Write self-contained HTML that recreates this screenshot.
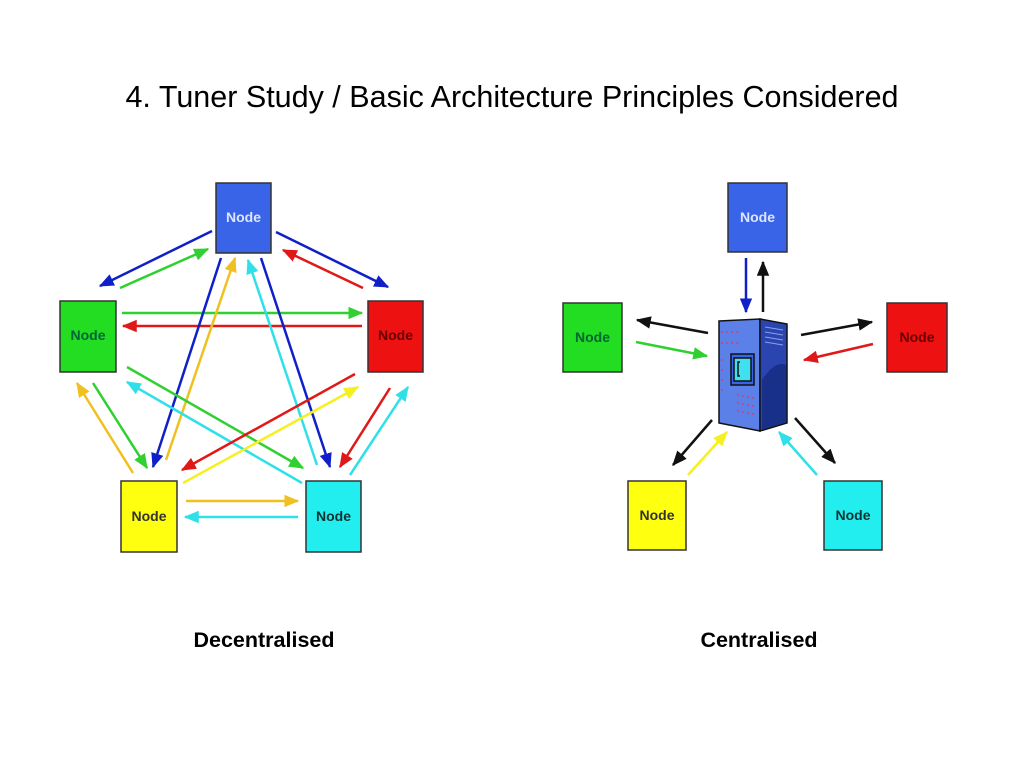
<!DOCTYPE html>
<html><head><meta charset="utf-8"><style>
body{margin:0;background:#fff;}
svg{display:block}
</style></head><body>
<svg width="1024" height="768" viewBox="0 0 1024 768" xmlns="http://www.w3.org/2000/svg" font-family="Liberation Sans, sans-serif">
<defs>
<marker id="mb" markerWidth="6" markerHeight="5" refX="5.5" refY="2.5" orient="auto" markerUnits="strokeWidth"><path d="M0,0L6,2.5L0,5z" fill="#1020c8"/></marker>
<marker id="mg" markerWidth="6" markerHeight="5" refX="5.5" refY="2.5" orient="auto" markerUnits="strokeWidth"><path d="M0,0L6,2.5L0,5z" fill="#30d030"/></marker>
<marker id="mr" markerWidth="6" markerHeight="5" refX="5.5" refY="2.5" orient="auto" markerUnits="strokeWidth"><path d="M0,0L6,2.5L0,5z" fill="#e01818"/></marker>
<marker id="my" markerWidth="6" markerHeight="5" refX="5.5" refY="2.5" orient="auto" markerUnits="strokeWidth"><path d="M0,0L6,2.5L0,5z" fill="#f0c020"/></marker>
<marker id="myy" markerWidth="6" markerHeight="5" refX="5.5" refY="2.5" orient="auto" markerUnits="strokeWidth"><path d="M0,0L6,2.5L0,5z" fill="#f5f020"/></marker>
<marker id="mc" markerWidth="6" markerHeight="5" refX="5.5" refY="2.5" orient="auto" markerUnits="strokeWidth"><path d="M0,0L6,2.5L0,5z" fill="#30e0e8"/></marker>
<marker id="mk" markerWidth="6" markerHeight="5" refX="5.5" refY="2.5" orient="auto" markerUnits="strokeWidth"><path d="M0,0L6,2.5L0,5z" fill="#111"/></marker>
</defs>
<text x="512" y="107" text-anchor="middle" font-size="30.5" fill="#000">4. Tuner Study / Basic Architecture Principles Considered</text>

<g stroke-width="2.5" fill="none">
<line x1="212" y1="231" x2="100" y2="286" stroke="#1020c8" marker-end="url(#mb)"/>
<line x1="120" y1="288" x2="208" y2="249" stroke="#30d030" marker-end="url(#mg)"/>
<line x1="276" y1="232" x2="388" y2="287" stroke="#1020c8" marker-end="url(#mb)"/>
<line x1="363" y1="288" x2="283" y2="250" stroke="#e01818" marker-end="url(#mr)"/>
<line x1="122" y1="313" x2="362" y2="313" stroke="#30d030" marker-end="url(#mg)"/>
<line x1="362" y1="326" x2="123" y2="326" stroke="#e01818" marker-end="url(#mr)"/>
<line x1="221" y1="258" x2="153" y2="467" stroke="#1020c8" marker-end="url(#mb)"/>
<line x1="166" y1="460" x2="235" y2="258" stroke="#f0c020" marker-end="url(#my)"/>
<line x1="317" y1="465" x2="248" y2="260" stroke="#30e0e8" marker-end="url(#mc)"/>
<line x1="261" y1="258" x2="330" y2="467" stroke="#1020c8" marker-end="url(#mb)"/>
<line x1="127" y1="367" x2="303" y2="468" stroke="#30d030" marker-end="url(#mg)"/>
<line x1="302" y1="483" x2="127" y2="382" stroke="#30e0e8" marker-end="url(#mc)"/>
<line x1="355" y1="374" x2="182" y2="470" stroke="#e01818" marker-end="url(#mr)"/>
<line x1="183" y1="483" x2="358" y2="387" stroke="#f5f020" marker-end="url(#myy)"/>
<line x1="390" y1="388" x2="340" y2="467" stroke="#e01818" marker-end="url(#mr)"/>
<line x1="350" y1="475" x2="408" y2="387" stroke="#30e0e8" marker-end="url(#mc)"/>
<line x1="133" y1="473" x2="77" y2="383" stroke="#f0c020" marker-end="url(#my)"/>
<line x1="93" y1="383" x2="147" y2="468" stroke="#30d030" marker-end="url(#mg)"/>
<line x1="186" y1="501" x2="298" y2="501" stroke="#f0c020" marker-end="url(#my)"/>
<line x1="298" y1="517" x2="185" y2="517" stroke="#30e0e8" marker-end="url(#mc)"/>
</g>

<g stroke="#333" stroke-width="1.5" font-size="14" font-weight="bold" text-anchor="middle">
<rect x="216" y="183" width="55" height="70" fill="#3a64e8"/>
<text x="243.5" y="222" fill="#dde6ff" stroke="none">Node</text>
<rect x="60" y="301" width="56" height="71" fill="#22dd22"/>
<text x="88" y="340" fill="#063" stroke="none">Node</text>
<rect x="368" y="301" width="55" height="71" fill="#ee1111"/>
<text x="395.5" y="340" fill="#600" stroke="none">Node</text>
<rect x="121" y="481" width="56" height="71" fill="#ffff10"/>
<text x="149" y="521" fill="#333" stroke="none">Node</text>
<rect x="306" y="481" width="55" height="71" fill="#22eef0"/>
<text x="333.5" y="521" fill="#133" stroke="none">Node</text>

<rect x="728" y="183" width="59" height="69" fill="#3a64e8"/>
<text x="757.5" y="222" fill="#dde6ff" stroke="none">Node</text>
<rect x="563" y="303" width="59" height="69" fill="#22dd22"/>
<text x="592.5" y="342" fill="#063" stroke="none">Node</text>
<rect x="887" y="303" width="60" height="69" fill="#ee1111"/>
<text x="917" y="342" fill="#600" stroke="none">Node</text>
<rect x="628" y="481" width="58" height="69" fill="#ffff10"/>
<text x="657" y="520" fill="#333" stroke="none">Node</text>
<rect x="824" y="481" width="58" height="69" fill="#22eef0"/>
<text x="853" y="520" fill="#133" stroke="none">Node</text>
</g>

<g stroke-width="2.5" fill="none">
<line x1="746" y1="258" x2="746" y2="312" stroke="#1020c8" marker-end="url(#mb)"/>
<line x1="763" y1="312" x2="763" y2="262" stroke="#111" marker-end="url(#mk)"/>
<line x1="708" y1="333" x2="637" y2="320" stroke="#111" marker-end="url(#mk)"/>
<line x1="636" y1="342" x2="707" y2="356" stroke="#30d030" marker-end="url(#mg)"/>
<line x1="801" y1="335" x2="872" y2="322" stroke="#111" marker-end="url(#mk)"/>
<line x1="873" y1="344" x2="804" y2="360" stroke="#e01818" marker-end="url(#mr)"/>
<line x1="712" y1="420" x2="673" y2="465" stroke="#111" marker-end="url(#mk)"/>
<line x1="688" y1="475" x2="727" y2="432" stroke="#f5f020" marker-end="url(#myy)"/>
<line x1="795" y1="418" x2="835" y2="463" stroke="#111" marker-end="url(#mk)"/>
<line x1="817" y1="475" x2="779" y2="432" stroke="#30e0e8" marker-end="url(#mc)"/>
</g>

<g stroke="#111" stroke-width="1.5">
<polygon points="719,321 760,319 760,431 719,423" fill="#5b80e8"/>
<polygon points="760,319 787,324 787,423 760,431" fill="#2a44b0"/>
<path d="M762,380 Q775,360 786,365 L786,422 L762,430z" fill="#18308a" stroke="none"/>
<rect x="731" y="354" width="23" height="31" fill="#3a64e8"/>
<rect x="734" y="358" width="17" height="23" fill="#40e0f0"/>
<path d="M740,362 L738,362 L738,376 L740,376" fill="none"/>
</g>
<g fill="#d04070">
<circle cx="722" cy="332" r="1"/><circle cx="727" cy="332" r="1"/><circle cx="732" cy="332" r="1"/><circle cx="737" cy="332" r="1"/>
<circle cx="722" cy="343" r="1"/><circle cx="727" cy="343" r="1"/><circle cx="732" cy="343" r="1"/><circle cx="737" cy="343" r="1"/>
<circle cx="722" cy="360" r="1"/><circle cx="722" cy="370" r="1"/><circle cx="722" cy="380" r="1"/><circle cx="722" cy="390" r="1"/>
<circle cx="738" cy="395" r="1"/><circle cx="743" cy="396" r="1"/><circle cx="748" cy="397" r="1"/><circle cx="753" cy="398" r="1"/>
<circle cx="738" cy="403" r="1"/><circle cx="743" cy="404" r="1"/><circle cx="748" cy="405" r="1"/><circle cx="753" cy="406" r="1"/>
<circle cx="738" cy="411" r="1"/><circle cx="743" cy="412" r="1"/><circle cx="748" cy="413" r="1"/><circle cx="753" cy="414" r="1"/>
</g>
<g stroke="#8aa0ee" stroke-width="1">
<line x1="765" y1="327" x2="783" y2="330"/><line x1="765" y1="332" x2="783" y2="335"/><line x1="765" y1="337" x2="783" y2="340"/><line x1="765" y1="342" x2="783" y2="345"/>
</g>

<g font-size="21.5" font-weight="bold" text-anchor="middle" fill="#000">
<text x="264" y="647">Decentralised</text>
<text x="759" y="647">Centralised</text>
</g>
</svg>
</body></html>
